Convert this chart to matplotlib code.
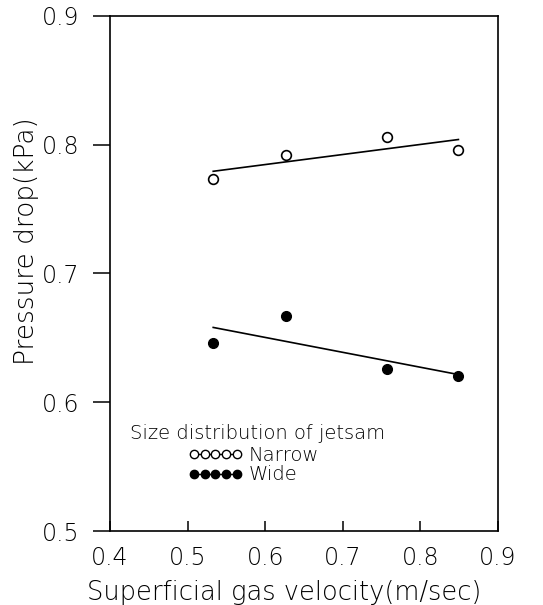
import numpy as np
import matplotlib
matplotlib.use('Agg')
import matplotlib.pyplot as plt
from matplotlib.lines import Line2D

plt.rcParams['font.family'] = 'DejaVu Sans'
plt.rcParams['font.weight'] = 'light'
plt.rcParams['axes.labelweight'] = 'light'

# superficial gas velocity (m/sec)
vel = [0.533, 0.627, 0.757, 0.849]
# pressure drop (kPa)
dp_narrow = [0.773, 0.792, 0.806, 0.796]
dp_wide = [0.646, 0.667, 0.626, 0.620]

xticks = [0.4, 0.5, 0.6, 0.7, 0.8, 0.9]
yticks = [0.5, 0.6, 0.7, 0.8, 0.9]

fig = plt.figure(figsize=(5.43, 6.05), dpi=100)
ax = fig.add_axes([0.2026, 0.1223, 0.7145, 0.8513])

# linear fits through each set
vv = np.array([min(vel), max(vel)])
p_n = np.polyfit(vel, dp_narrow, 1)
p_w = np.polyfit(vel, dp_wide, 1)
ax.plot(vv, np.polyval(p_n, vv), color='black', lw=1.2)
ax.plot(vv, np.polyval(p_w, vv), color='black', lw=1.2)

ax.plot(vel, dp_narrow, 'o', mfc='white', mec='black', mew=1.2, ms=7, ls='none')
ax.plot(vel, dp_wide, 'o', mfc='black', mec='black', ms=7, ls='none')

ax.set_xlim(0.4, 0.9)
ax.set_ylim(0.5, 0.9)
ax.set_xticks(xticks)
ax.set_yticks(yticks)
ax.set_xticklabels([str(t) for t in xticks])
ax.set_yticklabels([str(t) for t in yticks])
ax.tick_params(axis='x', direction='in', length=7, width=1.1, pad=11, labelsize=17, labelcolor='black')
ax.tick_params(axis='y', direction='out', length=12, width=1.1, pad=10, labelsize=17, labelcolor='black')
for s in ax.spines.values():
    s.set_linewidth(1.2)

ax.set_xlabel('Superficial gas velocity(m/sec)', fontsize=18.5)
ax.set_ylabel('Pressure drop(kPa)', fontsize=19)
ax.xaxis.set_label_coords(0.45, -0.095)
ax.yaxis.set_label_coords(-0.182, 0.563)

ax.text(0.052, 0.190, 'Size distribution of jetsam', transform=ax.transAxes,
        fontsize=14, va='center', ha='left')
handles = [
    Line2D([], [], color='black', lw=1, marker='o', mfc='white', mec='black', ms=6),
    Line2D([], [], color='black', lw=1, marker='o', mfc='black', mec='black', ms=6),
]
ax.legend(handles, ['Narrow', 'Wide'], loc='upper left', bbox_to_anchor=(0.201, 0.166),
          frameon=False, numpoints=5, handlelength=2.8, handletextpad=0.3,
          labelspacing=0.05, borderpad=0, borderaxespad=0, fontsize=14)

fig.savefig('out.png', dpi=100)
